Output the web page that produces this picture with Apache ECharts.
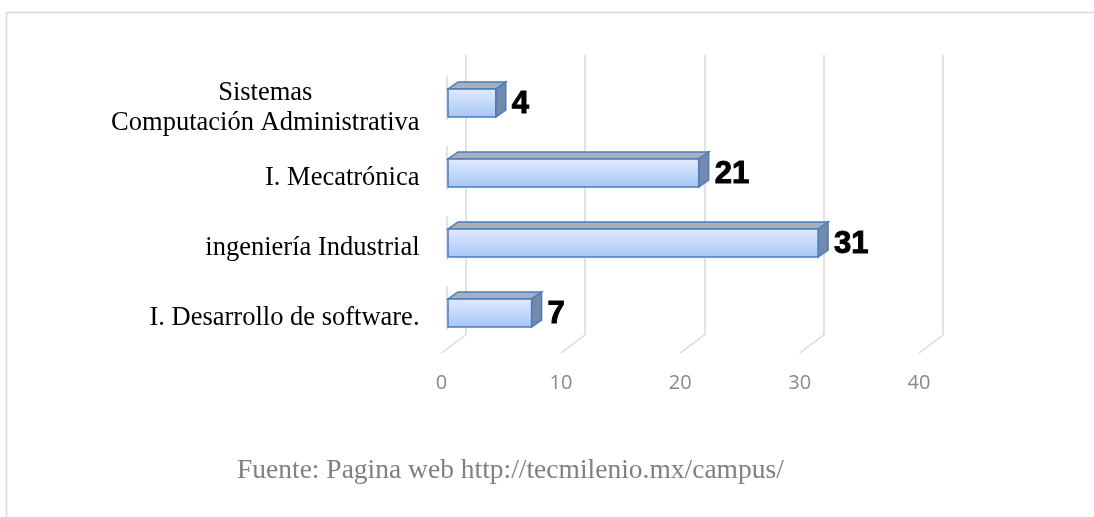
<!DOCTYPE html>
<html>
<head>
<meta charset="utf-8">
<script src="https://cdn.jsdelivr.net/npm/echarts@6/dist/echarts.min.js"></script>
<style>
  html, body { margin: 0; padding: 0; background: #ffffff; }
  #chart { width: 1094px; height: 517px; }
</style>
</head>
<body>
<div id="chart"></div>
<script>
// ── Datos ────────────────────────────────────────────────────────────────────
var categories = [
  'Sistemas\nComputación Administrativa',
  'I. Mecatrónica',
  'ingeniería Industrial',
  'I. Desarrollo de software.'
];
var values = [4, 21, 31, 7];
var tickValues = [0, 10, 20, 30, 40];
var sourceText = 'Fuente: Pagina web http://tecmilenio.mx/campus/';

// ── Profundidad del efecto 3D (px) ───────────────────────────────────────────
var FLOOR_DX = -24, FLOOR_DY = 18;   // pared del fondo -> plano frontal
var BAR_DX = -17.5, BAR_DY = 13;     // pared del fondo -> cara frontal de la barra
var DEPTH_X = 10, DEPTH_Y = -7;      // grosor de la barra

var GRID_COLOR = '#d9d9d9';
var SERIF = '"Liberation Serif", "Times New Roman", serif';

var chart = echarts.init(document.getElementById('chart'));

// líneas diagonales del "piso"
function renderFloor(params, api) {
  var cs = params.coordSys;
  var x = api.coord([api.value(0), categories[0]])[0];
  var y = cs.y + cs.height;
  return {
    type: 'line',
    shape: { x1: x, y1: y, x2: x + FLOOR_DX, y2: y + FLOOR_DY },
    style: { stroke: GRID_COLOR, lineWidth: 1.5 }
  };
}

// barras con cara frontal, superior y lateral
function renderBar(params, api) {
  var v = api.value(0);
  var c = api.value(1);
  var start = api.coord([0, c]);
  var end = api.coord([v, c]);
  var h = api.size([0, 1])[1] * 0.4;

  var x0 = start[0] + BAR_DX;
  var x1 = end[0] + BAR_DX;
  var cy = end[1] + BAR_DY;
  var y0 = cy - h / 2;
  var y1 = cy + h / 2;
  var edge = '#4a7ebb';

  return {
    type: 'group',
    children: [
      {
        // sombra suave a la izquierda
        type: 'line',
        shape: { x1: x0 - 1, y1: y0 + DEPTH_Y - 6, x2: x0 - 1, y2: y1 + 3 },
        style: {
          stroke: 'rgba(0,0,0,0.10)', lineWidth: 2,
          shadowBlur: 6, shadowColor: 'rgba(0,0,0,0.45)'
        }
      },
      {
        type: 'polygon',
        shape: { points: [[x0, y0], [x1, y0], [x1 + DEPTH_X, y0 + DEPTH_Y], [x0 + DEPTH_X, y0 + DEPTH_Y]] },
        style: { fill: '#a7afbe', stroke: edge, lineWidth: 1.5 }
      },
      {
        type: 'polygon',
        shape: { points: [[x1, y0], [x1 + DEPTH_X, y0 + DEPTH_Y], [x1 + DEPTH_X, y1 + DEPTH_Y], [x1, y1]] },
        style: { fill: '#7489ad', stroke: edge, lineWidth: 1.5 }
      },
      {
        type: 'rect',
        shape: { x: x0, y: y0, width: x1 - x0, height: h },
        style: {
          fill: new echarts.graphic.LinearGradient(0, 0, 0, 1, [
            { offset: 0, color: '#e1ecfd' },
            { offset: 1, color: '#a6c5f6' }
          ]),
          stroke: edge, lineWidth: 1.5
        }
      },
      {
        type: 'text',
        style: {
          text: String(v),
          x: x1 + DEPTH_X + 6,
          y: cy + 1,
          verticalAlign: 'middle',
          align: 'left',
          font: 'bold 31px "Liberation Sans", Arial, sans-serif',
          fill: '#000000',
          stroke: '#000000',
          lineWidth: 1
        }
      }
    ]
  };
}

chart.setOption({
  backgroundColor: '#ffffff',
  animation: false,
  graphic: [
    {
      type: 'polyline',
      shape: { points: [[6.5, 520], [6.5, 12.5], [1100, 12.5]] },
      style: { stroke: '#d9d9d9', lineWidth: 1.5, fill: null },
      silent: true
    },
    {
      type: 'text',
      left: 237,
      top: 457,
      style: {
        text: sourceText,
        font: '27.5px ' + SERIF,
        fill: '#808080'
      }
    }
  ],
  grid: [
    // pared del fondo
    { left: 465.5, right: 151, top: 55, bottom: 182 },
    // plano frontal (etiquetas)
    { left: 441.5, right: 175, top: 73, bottom: 164 }
  ],
  xAxis: [
    {
      gridIndex: 0, type: 'value', min: 0, max: 40, interval: 10,
      axisLine: { show: false }, axisTick: { show: false }, axisLabel: { show: false },
      splitLine: { show: true, lineStyle: { color: GRID_COLOR, width: 1.5 } }
    },
    {
      gridIndex: 1, type: 'value', min: 0, max: 40, interval: 10,
      axisLine: { show: false }, axisTick: { show: false }, splitLine: { show: false },
      axisLabel: {
        margin: 20, color: '#898989', fontSize: 20,
        fontFamily: '"Open Sans", sans-serif'
      }
    }
  ],
  yAxis: [
    {
      gridIndex: 0, type: 'category', inverse: true, data: categories,
      axisLine: { show: false }, axisTick: { show: false }, axisLabel: { show: false },
      splitLine: { show: false }
    },
    {
      gridIndex: 1, type: 'category', inverse: true, data: categories,
      axisLine: { show: false }, axisTick: { show: false }, splitLine: { show: false },
      axisLabel: {
        margin: 22,
        color: '#000000',
        fontSize: 26.5,
        lineHeight: 30,
        fontFamily: SERIF,
        formatter: function (val) {
          var parts = val.split('\n');
          if (parts.length === 1) return val;
          return '{c|' + parts[0] + '}\n{n|' + parts[1] + '}';
        },
        rich: {
          c: { align: 'center', fontSize: 26.5, lineHeight: 30, fontFamily: SERIF, color: '#000' },
          n: { fontSize: 26.5, lineHeight: 30, fontFamily: SERIF, color: '#000' }
        }
      }
    }
  ],
  series: [
    {
      type: 'custom',
      xAxisIndex: 0, yAxisIndex: 0,
      renderItem: renderFloor,
      data: tickValues.map(function (t) { return [t]; }),
      encode: { x: 0 },
      silent: true,
      z: 1
    },
    {
      type: 'custom',
      xAxisIndex: 0, yAxisIndex: 0,
      renderItem: renderBar,
      data: values.map(function (v, i) { return [v, i]; }),
      encode: { x: 0, y: 1 },
      z: 3
    }
  ]
});
</script>
</body>
</html>
